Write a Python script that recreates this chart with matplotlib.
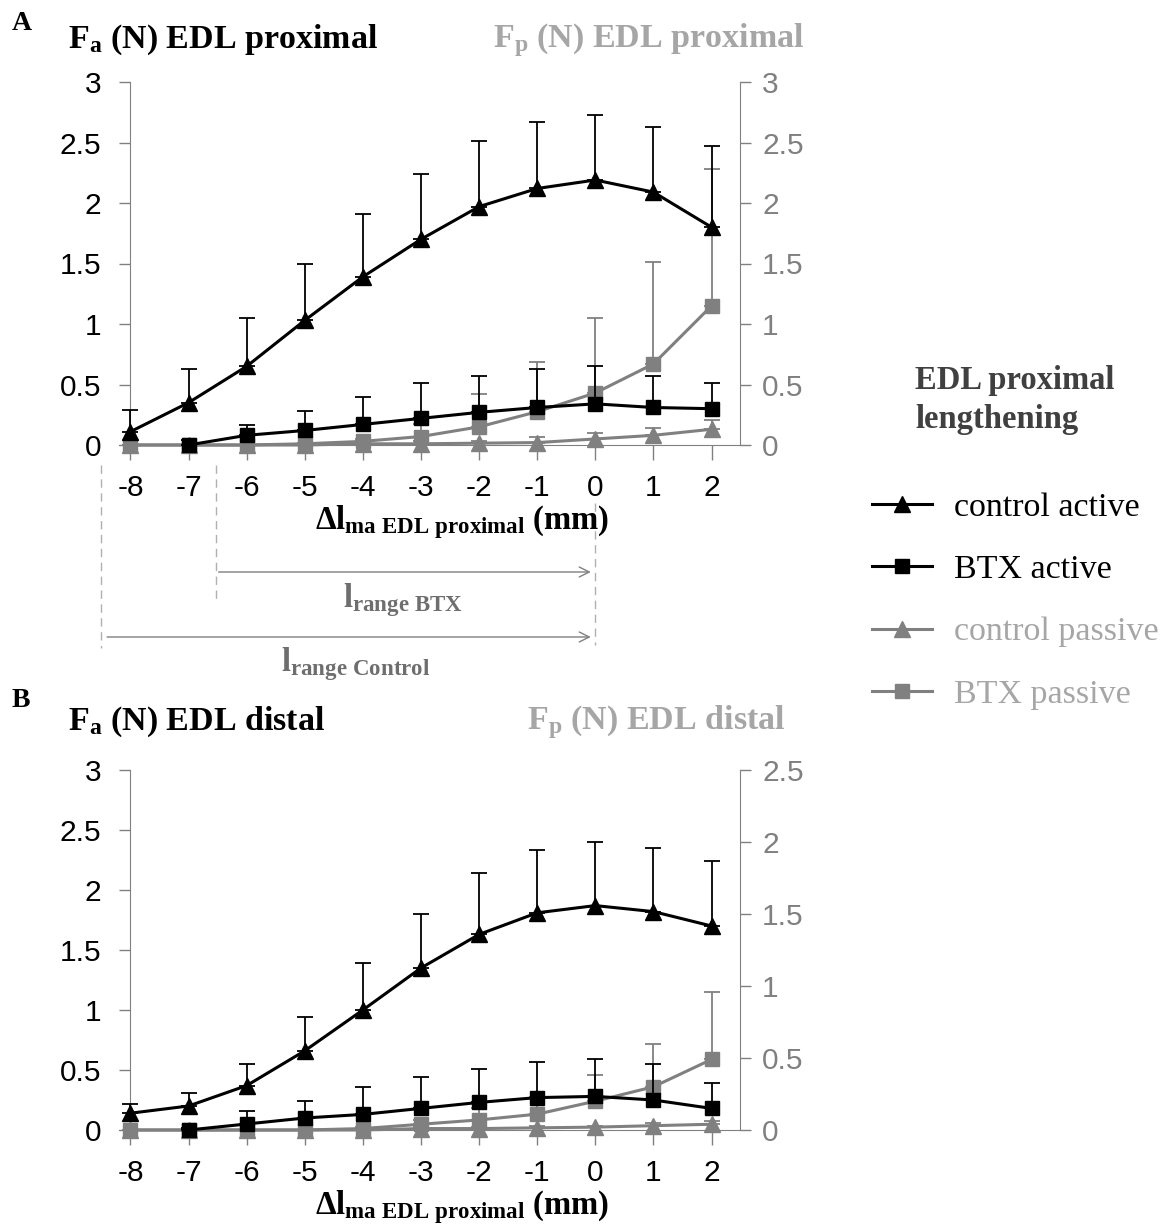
import numpy as np
import matplotlib
matplotlib.use('Agg')
import matplotlib.pyplot as plt

plt.rcParams['font.family'] = ['Liberation Sans', 'DejaVu Sans']
plt.rcParams['axes.unicode_minus'] = False
plt.rcParams['mathtext.fontset'] = 'custom'
plt.rcParams['mathtext.rm'] = 'Liberation Serif:bold'
plt.rcParams['mathtext.it'] = 'Liberation Serif:bold'
plt.rcParams['mathtext.bf'] = 'Liberation Serif:bold'

# lengthening (mm)
x = [-8, -7, -6, -5, -4, -3, -2, -1, 0, 1, 2]
nan = np.nan

# panel A: EDL proximal (mean, upper SD)
ctrl_act_A = [0.11, 0.35, 0.65, 1.03, 1.39, 1.70, 1.97, 2.12, 2.19, 2.09, 1.80]
ctrl_act_A_sd = [0.18, 0.28, 0.40, 0.47, 0.52, 0.54, 0.54, 0.55, 0.54, 0.54, 0.67]
btx_act_A = [nan, 0.0, 0.08, 0.12, 0.17, 0.22, 0.27, 0.31, 0.34, 0.31, 0.30]
btx_act_A_sd = [nan, 0.04, 0.085, 0.16, 0.23, 0.29, 0.30, 0.32, 0.31, 0.26, 0.21]
ctrl_pas_A = [0.0, 0.0, 0.0, 0.0, 0.01, 0.01, 0.015, 0.02, 0.05, 0.08, 0.13]
ctrl_pas_A_sd = [0.0, 0.0, 0.0, 0.0, 0.01, 0.02, 0.02, 0.05, 0.05, 0.06, 0.08]
btx_pas_A = [0.0, 0.0, 0.0, 0.01, 0.03, 0.07, 0.15, 0.275, 0.43, 0.67, 1.15]
btx_pas_A_sd = [0.0, 0.0, 0.0, 0.01, 0.02, 0.10, 0.27, 0.415, 0.62, 0.84, 1.13]

# panel B: EDL distal
ctrl_act_B = [0.14, 0.20, 0.37, 0.66, 1.00, 1.35, 1.63, 1.81, 1.87, 1.82, 1.70]
ctrl_act_B_sd = [0.08, 0.11, 0.18, 0.28, 0.39, 0.45, 0.51, 0.52, 0.53, 0.53, 0.54]
btx_act_B = [nan, 0.0, 0.05, 0.10, 0.13, 0.18, 0.23, 0.27, 0.28, 0.25, 0.18]
btx_act_B_sd = [nan, 0.02, 0.11, 0.14, 0.23, 0.26, 0.28, 0.30, 0.31, 0.30, 0.21]
ctrl_pas_B = [0.0, 0.0, 0.0, 0.0, 0.0, 0.01, 0.01, 0.015, 0.02, 0.03, 0.04]
ctrl_pas_B_sd = [0.0, 0.0, 0.0, 0.0, 0.0, 0.01, 0.01, 0.01, 0.01, 0.02, 0.02]
btx_pas_B = [0.0, 0.0, 0.0, 0.0, 0.01, 0.04, 0.07, 0.11, 0.20, 0.30, 0.49]
btx_pas_B_sd = [0.0, 0.0, 0.0, 0.0, 0.01, 0.03, 0.08, 0.12, 0.18, 0.30, 0.47]

# length ranges (mm)
range_start_ctrl = -8.5
range_start_btx = -6.53
range_end = 0

left_ticks = [0, 0.5, 1, 1.5, 2, 2.5, 3]
left_ticklabels = ['0', '0.5', '1', '1.5', '2', '2.5', '3']
right_ticks_B = [0, 0.5, 1, 1.5, 2, 2.5]
right_ticklabels_B = ['0', '0.5', '1', '1.5', '2', '2.5']

legend_labels = ['control active', 'BTX active', 'control passive', 'BTX passive']

BLACK = 'black'
GRAY = '#808080'
LIGHT = '#a6a6a6'
SERIF = 'Liberation Serif'

W, H = 1172, 1229
fig = plt.figure(figsize=(W / 100, H / 100), dpi=100)


def px(xp, yp):
    return xp / W, 1 - yp / H


def draw_series(ax, y, sd, marker, color, ms, z):
    lo = np.zeros(len(x))
    eb = ax.errorbar(x, y, yerr=[lo, sd], fmt='-' + marker, color=color, ecolor=color,
                     mfc=color, mec=color, ms=ms, lw=2.2, elinewidth=1.3,
                     capsize=6, capthick=1.3, clip_on=False, zorder=z)
    for art in eb.lines[1] + eb.lines[2]:
        art.set_clip_on(False)
    return eb


def make_panel(bottom_px, top_px, right_max, right_ticks, right_labels, data):
    left = 118.8 / W
    width = 621.2 / W
    bottom = 1 - bottom_px / H
    height = (bottom_px - top_px) / H
    ax = fig.add_axes([left, bottom, width, height])
    ax2 = ax.twinx()
    ax.set_zorder(ax2.get_zorder() + 1)
    ax.patch.set_visible(False)

    ax.set_xlim(-8.2, 2.49)
    ax.set_ylim(0, 3)
    ax2.set_ylim(0, right_max)

    for s in ['top', 'right']:
        ax.spines[s].set_visible(False)
    for s in ['top', 'left', 'bottom']:
        ax2.spines[s].set_visible(False)
    ax.spines['left'].set_position(('data', -8))
    ax.spines['left'].set_color(GRAY)
    ax.spines['bottom'].set_color(GRAY)
    ax2.spines['right'].set_color(GRAY)

    ax.set_xticks(x)
    ax.set_xticklabels([str(v) for v in x])
    ax.set_yticks(left_ticks)
    ax.set_yticklabels(left_ticklabels)
    ax2.set_yticks(right_ticks)
    ax2.set_yticklabels(right_labels)

    ax.tick_params(axis='x', direction='out', length=11, width=1, color=GRAY,
                   labelsize=21.5, pad=10, labelcolor=BLACK)
    ax.tick_params(axis='y', direction='out', length=8, width=1, color=GRAY,
                   labelsize=21.5, pad=13, labelcolor=BLACK)
    ax2.tick_params(axis='y', direction='out', length=8, width=1, color=GRAY,
                    labelsize=21.5, pad=8, labelcolor=GRAY)

    ca, ca_sd, ba, ba_sd, cp, cp_sd, bp, bp_sd = data
    h3 = draw_series(ax2, bp, bp_sd, 's', GRAY, 10, 3)
    h4 = draw_series(ax2, cp, cp_sd, '^', GRAY, 11, 4)
    h2 = draw_series(ax, ba, ba_sd, 's', BLACK, 10, 5)
    h1 = draw_series(ax, ca, ca_sd, '^', BLACK, 12, 6)
    return ax, ax2, [h1[0], h2[0], h4[0], h3[0]]


axA, axA2, handles = make_panel(445, 82, 3, left_ticks, left_ticklabels,
                                [ctrl_act_A, ctrl_act_A_sd, btx_act_A, btx_act_A_sd,
                                 ctrl_pas_A, ctrl_pas_A_sd, btx_pas_A, btx_pas_A_sd])
axB, axB2, _ = make_panel(1130, 770, 2.5, right_ticks_B, right_ticklabels_B,
                          [ctrl_act_B, ctrl_act_B_sd, btx_act_B, btx_act_B_sd,
                           ctrl_pas_B, ctrl_pas_B_sd, btx_pas_B, btx_pas_B_sd])

# panel letters and axis titles
fig.text(*px(12, 24), 'A', family=SERIF, weight='bold', size=20, va='center')
fig.text(*px(12, 700), 'B', family=SERIF, weight='bold', size=20, va='center')
fig.text(*px(68, 40), r'F$_{\rm a}$ (N) EDL proximal', family=SERIF, weight='bold',
         size=24.5, va='center', color=BLACK)
fig.text(*px(493, 40), r'F$_{\rm p}$ (N) EDL proximal', family=SERIF, weight='bold',
         size=24.5, va='center', color=LIGHT)
fig.text(*px(68, 722), r'F$_{\rm a}$ (N) EDL distal', family=SERIF, weight='bold',
         size=24.5, va='center', color=BLACK)
fig.text(*px(527, 722), r'F$_{\rm p}$ (N) EDL distal', family=SERIF, weight='bold',
         size=24.5, va='center', color=LIGHT)

xlab = r'$\Delta$l$_{\rm ma\ EDL\ proximal}$ (mm)'
fig.text(*px(462, 522), xlab, family=SERIF, weight='bold', size=23.5, ha='center', va='center')
fig.text(*px(462, 1207), xlab, family=SERIF, weight='bold', size=23.5, ha='center', va='center')

# length range markers below panel A
tr = axA.get_xaxis_transform()
y_px = lambda yp: (445 - yp) / 363.0
axA.plot([range_start_ctrl, range_start_ctrl], [y_px(465), y_px(648)], transform=tr,
         ls=(0, (6, 4)), color='#b0b0b0', lw=1, clip_on=False)
axA.plot([range_start_btx, range_start_btx], [y_px(465), y_px(603)], transform=tr,
         ls=(0, (6, 4)), color='#b0b0b0', lw=1, clip_on=False)
axA.plot([range_end, range_end], [y_px(503), y_px(645)], transform=tr,
         ls=(0, (6, 4)), color='#b0b0b0', lw=1, clip_on=False)
axA.annotate('', xy=(range_end - 0.03, y_px(572)), xytext=(range_start_btx, y_px(572)),
             xycoords=tr, textcoords=tr, annotation_clip=False,
             arrowprops=dict(arrowstyle='->', color=GRAY, lw=1, mutation_scale=18))
axA.annotate('', xy=(range_end - 0.03, y_px(637)), xytext=(range_start_ctrl + 0.05, y_px(637)),
             xycoords=tr, textcoords=tr, annotation_clip=False,
             arrowprops=dict(arrowstyle='->', color=GRAY, lw=1, mutation_scale=18))
fig.text(*px(403, 600), r'l$_{\rm range\ BTX}$', family=SERIF, weight='bold', size=23.5,
         ha='center', va='center', color='#6e6e6e')
fig.text(*px(356, 664), r'l$_{\rm range\ Control}$', family=SERIF, weight='bold', size=23.5,
         ha='center', va='center', color='#6e6e6e')

# legend
fig.text(*px(915, 400), 'EDL proximal\nlengthening', family=SERIF, weight='bold', size=23.5,
         va='center', ha='left', color='#404040', linespacing=1.35)
leg = fig.legend(handles, legend_labels, loc='center left', bbox_to_anchor=px(872, 601),
                 frameon=False, prop=dict(family=SERIF, size=24.5), handlelength=1.75,
                 handletextpad=0.65, labelspacing=0.92, borderpad=0, borderaxespad=0)
for t, c in zip(leg.get_texts(), [BLACK, BLACK, LIGHT, LIGHT]):
    t.set_color(c)

fig.savefig('out.png', dpi=100)
